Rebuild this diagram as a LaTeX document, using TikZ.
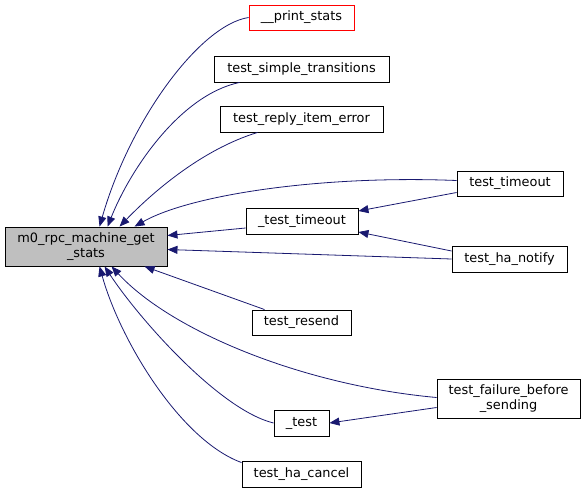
\documentclass[tikz,border=0pt]{standalone}
\usepackage{fontspec}
\setmainfont{DejaVu Sans}
\usetikzlibrary{arrows.meta,calc}
\definecolor{edgeblue}{HTML}{191970}
\definecolor{maingray}{HTML}{BFBFBF}
\begin{document}
\begin{tikzpicture}[x=1pt,y=-1pt,
  box/.style={draw=black,line width=0.9pt,fill=white,inner sep=0pt,align=center,font=\fontsize{12.9}{14.5}\selectfont},
  edge/.style={draw=edgeblue,line width=0.8pt,-{Triangle[length=10pt,width=8pt]}}]
\useasboundingbox (0,0) rectangle (588,493);
\node[box,fill=maingray,minimum width=162pt,minimum height=39pt] (main) at (86,246.5) {m0\_rpc\_machine\_get\\\_stats};
\node[box,draw=red,minimum width=105pt,minimum height=25pt] (print) at (301.5,17.5) {\_\_print\_stats};
\node[box,minimum width=175pt,minimum height=26pt] (simple) at (301.5,69) {test\_simple\_transitions};
\node[box,minimum width=163pt,minimum height=26pt] (reply) at (301.5,119) {test\_reply\_item\_error};
\node[box,minimum width=112pt,minimum height=26pt] (ttimeout) at (302,221) {\_test\_timeout};
\node[box,minimum width=106pt,minimum height=25pt] (timeout) at (510,183.5) {test\_timeout};
\node[box,minimum width=115pt,minimum height=26pt] (notify) at (509.5,259) {test\_ha\_notify};
\node[box,minimum width=99pt,minimum height=25pt] (resend) at (301.5,322.5) {test\_resend};
\node[box,minimum width=143pt,minimum height=39pt] (failure) at (508.5,398.5) {test\_failure\_before\\\_sending};
\node[box,minimum width=55pt,minimum height=26pt] (test) at (301.5,423) {\_test};
\node[box,minimum width=119pt,minimum height=26pt] (cancel) at (301.5,474) {test\_ha\_cancel};
% edges into main (top)
\draw[edge] (print.west) .. controls (200,25) and (130,120) .. ($(main.north west)+(95,0)$);
\draw[edge] ($(simple.south west)+(26,0)$) .. controls (180,95) and (130,170) .. ($(main.north west)+(103,0)$);
\draw[edge] ($(reply.south west)+(38,0)$) .. controls (200,150) and (150,195) .. ($(main.north west)+(115,0)$);
\draw[edge] ($(timeout.west)+(0,-3)$) .. controls (320,175) and (190,195) .. ($(main.north west)+(130,0)$);
% right side
\draw[edge] ($(ttimeout.west)+(0,7)$) -- ($(main.east)+(0,-11)$);
\draw[edge] (notify.west) -- ($(main.east)+(0,3)$);
% bottom
\draw[edge] ($(resend.north west)+(13,0)$) -- ($(main.south west)+(140,0)$);
\draw[edge] ($(failure.west)+(0,-1)$) .. controls (300,385) and (170,330) .. ($(main.south west)+(107,0)$);
\draw[edge] (test.west) .. controls (220,410) and (140,320) .. ($(main.south west)+(100,0)$);
\draw[edge] ($(cancel.north west)+(0,2)$) .. controls (180,440) and (120,340) .. ($(main.south west)+(95,0)$);
% secondary
\draw[edge] ($(timeout.west)+(0,9)$) -- ($(ttimeout.east)+(0,-10)$);
\draw[edge] ($(notify.west)+(0,-8)$) -- ($(ttimeout.east)+(0,11)$);
\draw[edge] ($(failure.west)+(0,9)$) -- (test.east);
\end{tikzpicture}
\end{document}
